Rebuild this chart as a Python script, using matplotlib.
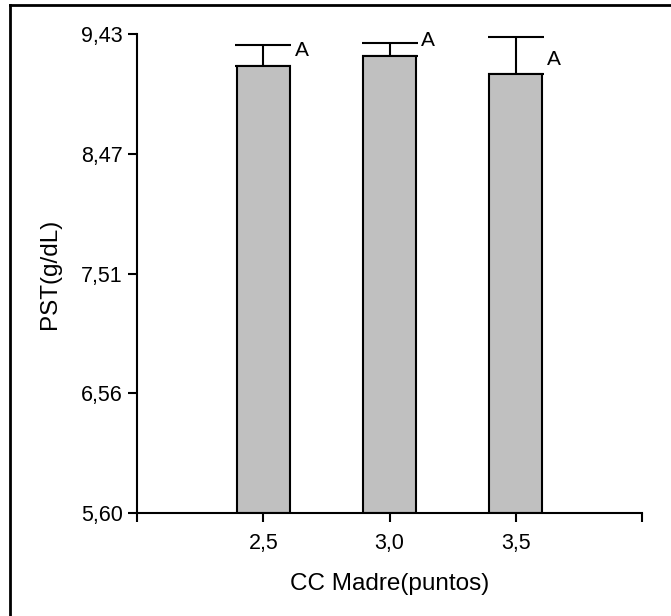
import numpy as np
import matplotlib
matplotlib.use("Agg")
import matplotlib.pyplot as plt
from matplotlib.lines import Line2D

plt.rcParams['font.family'] = ['Liberation Sans', 'DejaVu Sans']

# data
x_pos = [2.5, 3.0, 3.5]
x_labels = ['2,5', '3,0', '3,5']
means = [9.18, 9.26, 9.11]
se = [0.165, 0.104, 0.298]
letters = ['A', 'A', 'A']
letter_y = [9.30, 9.38, 9.23]
y_ticks = [5.60, 6.5575, 7.515, 8.4725, 9.43]
y_tick_labels = ['5,60', '6,56', '7,51', '8,47', '9,43']

fig = plt.figure(figsize=(6.71, 6.16), dpi=100)
ax = fig.add_axes([0.2046, 0.1677, 0.9568 - 0.2046, 0.9443 - 0.1677])

ax.bar(x_pos, [m - 5.60 for m in means], bottom=5.60, width=0.21,
       color='#c0c0c0', edgecolor='black', linewidth=1.5, zorder=2)
ax.errorbar(x_pos, means, yerr=[np.zeros(len(se)), se], fmt='none',
            ecolor='black', elinewidth=1.5, capsize=20, capthick=1.5, zorder=1)

for xp, lab, ly in zip(x_pos, letters, letter_y):
    ax.text(xp + 0.123, ly, lab, fontsize=15, ha='left', va='center')

ax.set_xlim(2.0, 4.0)
ax.set_ylim(5.60, 9.43)
ax.set_xticks([2.0] + x_pos + [4.0])
ax.set_xticklabels([''] + x_labels + [''])
ax.set_yticks(y_ticks)
ax.set_yticklabels(y_tick_labels)

ax.spines['top'].set_visible(False)
ax.spines['right'].set_visible(False)
ax.spines['left'].set_linewidth(1.5)
ax.spines['bottom'].set_linewidth(1.5)
ax.tick_params(axis='both', labelsize=15.5, width=1.5, length=6.5)
ax.tick_params(axis='x', pad=8)
ax.tick_params(axis='y', pad=4)

ax.set_xlabel('CC Madre(puntos)', fontsize=17.5, labelpad=14)
ax.set_ylabel('PST(g/dL)', fontsize=17.5, labelpad=14)

# frame around the figure (only left and top visible in the reference)
fig.add_artist(Line2D([10 / 671, 10 / 671], [0, 1 - 5 / 616], color='black', lw=2,
                      transform=fig.transFigure))
fig.add_artist(Line2D([10 / 671, 1], [1 - 5 / 616, 1 - 5 / 616], color='black', lw=2,
                      transform=fig.transFigure))

fig.savefig('out.png', dpi=100)
